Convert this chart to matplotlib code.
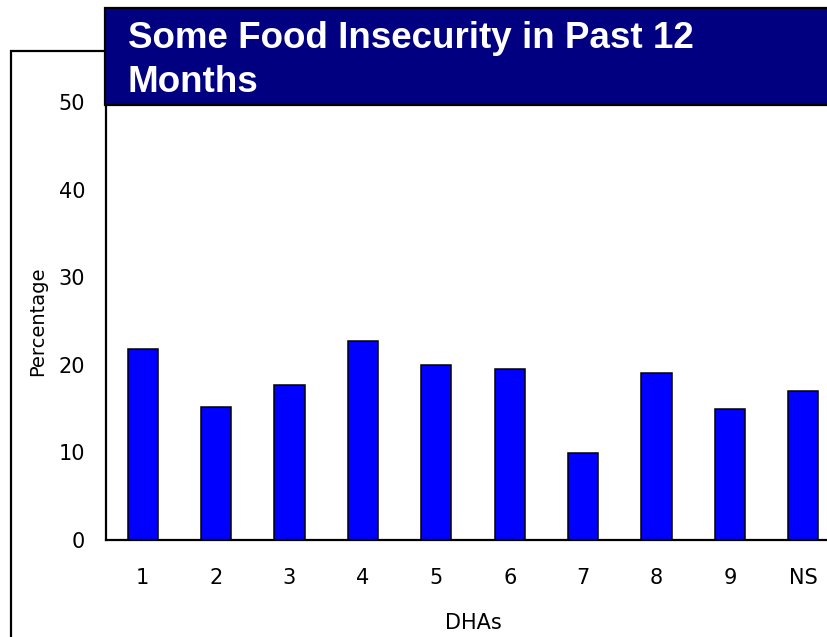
import matplotlib
matplotlib.use('Agg')
import matplotlib.pyplot as plt
from matplotlib.patches import Rectangle
import numpy as np

# data
dhas = ['1', '2', '3', '4', '5', '6', '7', '8', '9', 'NS']
pct = [21.8, 15.2, 17.7, 22.7, 20.0, 19.5, 9.9, 19.1, 15.0, 17.0]
y_ticks = [0, 10, 20, 30, 40, 50]
title = 'Some Food Insecurity in Past 12\nMonths'

W, H = 827, 637
fig = plt.figure(figsize=(W / 100, H / 100), dpi=100)

def px(x0, y0, x1, y1):
    # pixel box (top-left origin) -> figure fraction rect
    return (x0 / W, 1 - y1 / H, (x1 - x0) / W, (y1 - y0) / H)

ax = fig.add_axes(px(106, 102, 840, 540))
x = np.arange(len(dhas))
ax.bar(x, pct, width=0.41, color='#0000ff', edgecolor='black', linewidth=1.1, zorder=2)

ax.set_xlim(-0.5, len(dhas) - 0.5)
ax.set_ylim(0, 50)
ax.set_yticks(y_ticks)
ax.set_xticks(x)
ax.set_xticklabels(dhas)
ax.tick_params(axis='both', length=0, labelsize=15)
ax.tick_params(axis='y', pad=15)
ax.tick_params(axis='x', pad=20)
ax.set_xlabel('DHAs', fontsize=15, labelpad=18)
ax.set_ylabel('Percentage', fontsize=14, labelpad=8)

for side in ('top', 'right'):
    ax.spines[side].set_visible(False)
for side in ('left', 'bottom'):
    ax.spines[side].set_linewidth(1.6)
    ax.spines[side].set_color('black')

# outer frame, sits behind the title banner
fig.patches.append(Rectangle(px(11, 51, 900, 700)[:2], (900 - 11) / W, (700 - 51) / H,
                             transform=fig.transFigure, fill=False,
                             edgecolor='black', linewidth=1.6, zorder=1))

# navy title banner
b = px(105, 8, 900, 105)
fig.patches.append(Rectangle(b[:2], b[2], b[3], transform=fig.transFigure,
                             facecolor='#000080', edgecolor='black',
                             linewidth=1.6, zorder=2))

fig.text(128 / W, 1 - 21 / H, title, color='white', fontsize=26.5,
         fontweight='bold', family='Liberation Sans', va='top', ha='left',
         linespacing=1.35, zorder=3)

fig.savefig('out.png', dpi=100)
